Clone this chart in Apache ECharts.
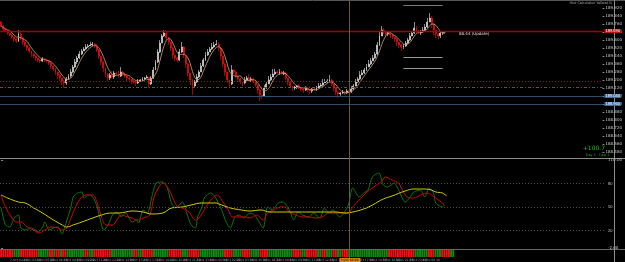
<!DOCTYPE html>
<html><head><meta charset="utf-8">
<script src="https://cdn.jsdelivr.net/npm/echarts@6/dist/echarts.min.js"></script>
<style>html,body{margin:0;padding:0;background:#000;overflow:hidden}#c{width:625px;height:262px}</style>
</head><body><div id="c"></div>
<script>
// ---------- data ----------
const firstOpen = 189.78;
const closes = [189.74,189.71,189.69,189.67,189.65,189.63,189.61,189.59,189.66,
189.62,189.58,189.55,189.52,189.49,189.46,189.44,189.42,189.40,
189.39,189.41,189.40,189.39,
189.37,189.34,189.31,189.28,189.25,189.22,189.19,189.17,
189.21,189.24,189.28,189.33,189.38,189.42,189.46,189.49,189.51,189.53,189.54,189.55,189.56,189.54,
189.50,189.44,189.38,189.32,189.26,189.22,
189.25,189.23,189.27,189.26,189.24,189.28,189.26,
189.24,189.22,189.21,189.19,189.18,189.17,
189.19,189.20,189.21,189.22,189.23,
189.16,
189.22,189.30,189.38,189.48,189.57,189.64,189.67,
189.62,189.58,189.52,189.45,189.42,189.40,
189.48,189.53,
189.45,189.36,189.27,189.20,189.14,
189.18,189.23,189.28,189.34,189.40,189.45,
189.48,189.51,189.53,189.55,189.56,
189.52,189.44,189.36,189.28,189.20,189.16,
189.30,189.28,
189.24,189.21,189.18,189.17,
189.20,189.22,189.20,189.21,189.19,
189.15,189.10,189.05,189.04,
189.12,189.16,189.20,189.23,189.26,189.28,
189.27,189.28,189.26,189.27,
189.22,189.18,189.14,189.12,189.13,
189.14,189.12,189.11,189.10,189.12,189.10,189.09,189.11,189.10,
189.12,189.14,189.15,189.17,189.18,189.19,189.20,
189.16,189.12,189.08,189.06,189.07,
189.08,189.07,189.09,189.08,
189.11,189.14,189.18,189.21,189.25,189.27,189.30,189.33,189.36,189.39,189.42,189.46,
189.55,189.64,189.70,
189.68,189.66,189.67,189.65,
189.63,189.61,189.58,189.55,189.53,189.54,189.57,
189.60,189.64,189.67,189.72,
189.69,189.67,189.68,189.70,189.73,189.78,189.82,
189.76,189.70,189.66,189.64,189.67,189.68,189.68];
// wick lengths beyond the body, in hundredths
const upperWickPips = [1,1,0,1,0,1,0,1,4, 2,1,1,0,1,0,1,1,0, 1,2,1,1, 0,1,0,1,0,1,0,1,
2,2,3,2,3,2,3,2,2,3,2,3,2,1, 2,1,0,1,0,1, 2,4,2,1,3,5,1, 1,0,1,0,1,0, 2,1,2,1,2, 0,
2,3,2,3,3,2,3, 2,1,0,1,0,1, 3,5, 1,0,1,0,1, 2,3,2,3,2,3, 3,2,4,3,4, 2,1,0,1,0,0, 5,1,
1,0,1,0, 3,2,4,2,1, 1,0,1,0, 3,2,4,3,5,3, 2,3,1,2, 1,0,1,0,1, 1,2,1,0,2,1,0,1,1,
2,3,2,4,3,2,5, 1,0,1,0,1, 2,1,2,1, 3,2,3,2,4,3,2,3,4,3,3,2, 3,4,4, 2,1,2,1,
1,0,1,0,1,2,2, 2,3,2,6, 2,1,2,3,3,4,5, 2,1,0,1,2,1,1];
const lowerWickPips = [1,2,1,2,1,2,3,2,1, 2,3,2,3,2,3,2,3,2, 2,1,2,2, 2,3,2,3,4,3,4,5,
2,1,2,1,1,2,1,1,0,1,1,0,1,2, 2,3,3,4,3,3, 2,1,2,1,2,1,2, 2,3,2,3,2,3, 1,0,1,1,0, 4,
1,1,0,1,1,0,1, 2,3,3,4,3,2, 1,1, 3,4,3,5,9, 2,1,1,0,1,1, 1,0,1,1,0, 3,4,3,4,3,3, 1,2,
2,3,2,3, 1,2,1,2,2, 2,4,6,3, 1,1,0,1,0,1, 1,2,1,1, 2,3,2,3,2, 2,1,2,3,1,2,3,2,1,
1,0,1,1,0,1,1, 2,3,3,4,2, 1,2,1,1, 1,1,0,1,1,0,1,1,0,1,0,1, 1,1,0, 2,3,2,3,
2,3,4,3,4,2,1, 1,1,0,1, 2,1,2,1,1,1,0, 4,5,4,3,2,2,1];
// trend histogram: [direction, number of bars]
const histRuns = [[-1,6],[1,3],[-1,8],[1,5],[-1,2],[1,1],[-1,2],[1,1],[-1,2],[1,8],[-1,2],[1,2],
[-1,8],[1,10],[-1,2],[1,2],[-1,5],[1,7],[-1,6],[1,3],[-1,5],[1,11],[-1,4],[1,4],[-1,4],[1,4],
[-1,4],[1,11],[-1,4],[1,2],[-1,5],[1,2],[-1,2],[1,3],[-1,2],[1,2],[-1,3],[1,18],[-1,12],[1,6],
[-1,3],[1,3],[-1,4],[1,2]];
// oscillator lines: [bar index, value]
const oscFast = [[0,48.9],[2,27.3],[4,24.7],[6,36.2],[8,40],[9,23.5],[11,20.9],[14,23.5],[17,18.4],[19,24.7],
[20,31.1],[22,20.9],[24,23.5],[26,24.7],[28,15.8],[29,23.5],[32,50.2],[33,62.9],[35,68],[37,69.3],[38,61.6],
[40,65.5],[42,62.9],[44,50.2],[46,27.3],[47,20.9],[49,27.3],[51,40],[53,43.8],[55,37.5],[57,42.5],[60,31.1],
[62,33.6],[63,29.8],[65,46.4],[67,42.5],[69,62.9],[71,80.7],[74,82],[76,75.6],[78,55.3],[80,48.9],[83,56.5],
[85,42.5],[87,27.3],[89,23.5],[90,37.5],[92,50.2],[93,61.6],[96,68],[98,62.9],[101,46.4],[103,31.1],[105,23.5],
[107,37.5],[109,40],[111,36.2],[114,42.5],[116,40],[117,36.2],[120,23.5],[122,50.2],[124,46.4],[127,55.3],
[129,56.5],[132,46.4],[134,33.6],[136,43.8],[138,40],[141,37.5],[143,42.5],[146,36.2],[148,48.9],[150,42.5],
[152,46.4],[155,37.5],[157,42.5],[159,52.7],[161,74.4],[164,62.9],[166,68],[168,71.8],[170,88.4],[173,93.5],
[175,78.2],[177,75.6],[180,80.7],[182,71.8],[185,56.5],[187,61.6],[189,69.3],[192,71.8],[194,62.9],[196,74.4],
[198,68],[199,55.3],[202,50.2],[203,52.7]];
const oscSignal = [[0,65.5],[2,50.2],[5,36.2],[7,31.1],[9,31.1],[12,24.7],[15,20.9],[17,17.1],[20,20.9],[23,24.7],
[26,23.5],[28,20.9],[30,23.5],[32,36.2],[35,55.3],[37,62.9],[39,65.5],[42,65.5],[44,55.3],[46,37.5],[48,27.3],
[51,27.3],[53,33.6],[55,40],[58,37.5],[60,36.2],[62,33.6],[65,36.2],[68,40],[70,62.9],[72,74.4],[74,80.7],
[77,71.8],[79,59.1],[81,50.2],[83,48.9],[86,43.8],[89,33.6],[91,37.5],[93,46.4],[96,59.1],[99,65.5],[101,59.1],
[104,46.4],[106,37.5],[109,37.5],[112,37.5],[114,36.2],[117,40],[120,33.6],[122,42.5],[125,46.4],[128,50.2],
[130,50.2],[132,43.8],[135,40],[138,37.5],[141,37.5],[144,36.2],[147,37.5],[150,42.5],[153,42.5],[157,42.5],
[159,42.5],[161,50.2],[164,59.1],[167,68],[170,74.4],[174,82],[176,88.4],[179,84.5],[182,80.7],[183,75.6],
[186,62.9],[189,61.6],[192,65.5],[195,68],[197,65.5],[199,61.6],[202,55.3],[203,52.7]];
const oscSlow = [[0,65.5],[3,61.6],[8,56.5],[11,55.3],[15,48.9],[19,42.5],[24,33.6],[28,27.3],[30,24.7],[33,27.3],
[37,31.1],[42,36.2],[46,40],[50,42.5],[54,42.5],[57,43.8],[60,45.1],[65,43.8],[69,41.3],[74,42.5],[78,48.9],
[83,50.2],[87,52.7],[92,55.3],[95,55.3],[98,55.3],[101,52.7],[105,48.9],[110,46.4],[114,45.1],[119,46.4],
[123,43.8],[129,43.8],[135,43.8],[141,43.8],[148,43.8],[153,43.8],[158,42.5],[161,43.8],[166,47.6],[170,52.7],
[175,60.4],[179,64.2],[185,70.5],[189,73.1],[194,73.1],[197,71.8],[199,69.3],[202,68],[204,64.2]];
const oscLevels = [80, 50, 20];
const priceLines = {resistance:189.69, dotted:189.19, dashDot:189.13, blueHigh:189.04, blueLow:188.96};
const targetLines = [189.95, 189.43, 189.32];
const targetFrom = 185, targetTo = 203;
const cursorBar = 160;
const totalSlots = 277;
const maPeriod = 5;

// ---------- build ----------
const months = ['Jan','Feb','Mar','Apr','May','Jun','Jul','Aug','Sep','Oct','Nov','Dec'];
const t0 = Date.UTC(2023, 9, 2, 0, 0);
const categories = [];
for (let i = 0; i < totalSlots; i++) {
  const d = new Date(t0 + i * 15 * 60000);
  categories.push(d.getUTCDate() + ' ' + months[d.getUTCMonth()] + ' ' +
    String(d.getUTCHours()).padStart(2,'0') + ':' + String(d.getUTCMinutes()).padStart(2,'0'));
}
const candles = closes.map((c, i) => {
  const o = i === 0 ? firstOpen : closes[i-1];
  const hi = Math.max(o, c) + upperWickPips[i] / 100;
  const lo = Math.min(o, c) - lowerWickPips[i] / 100;
  return [o, c, +lo.toFixed(2), +hi.toFixed(2)];
});
const ma = closes.map((c, i) => {
  const s = closes.slice(Math.max(0, i - maPeriod + 1), i + 1);
  return +(s.reduce((a, b) => a + b, 0) / s.length).toFixed(4);
});
const hist = [];
histRuns.forEach(([dir, n]) => { for (let k = 0; k < n; k++) hist.push({value: 1, itemStyle: {color: dir > 0 ? '#0f8a0f' : '#f01010'}}); });

const lbl = (bg) => ({show: true, position: 'end', distance: 2, fontSize: 4, color: '#fff',
  backgroundColor: bg, padding: [0, 1], formatter: p => p.value.toFixed(3)});

const chart = echarts.init(document.getElementById('c'), null, {renderer: 'canvas'});
chart.setOption({
  backgroundColor: '#000',
  animation: false,
  grid: [
    {left: 0, right: 11, top: 1, height: 151},
    {left: 0, right: 11, top: 160, height: 88},
    {left: 0, right: 11, top: 250, height: 7}
  ],
  xAxis: [
    {type: 'category', gridIndex: 0, data: categories, show: false},
    {type: 'value', gridIndex: 1, min: -0.5, max: totalSlots - 0.5, show: false},
    {type: 'category', gridIndex: 2, data: categories, axisLine: {show: false}, axisTick: {show: false},
     axisLabel: {fontSize: 3, color: '#9a9a9a', margin: 2, fontFamily: 'DejaVu Sans',
       interval: (idx) => idx % 6 === 2 && idx < closes.length}}
  ],
  yAxis: [
    {type: 'value', gridIndex: 0, position: 'right', min: 188.48, max: 189.99, interval: 0.08,
     splitLine: {show: false}, axisLine: {show: false},
     axisTick: {show: true, length: 2, lineStyle: {color: '#888'}},
     axisLabel: {fontSize: 4, color: '#c8c8c8', margin: 3, showMaxLabel: false, fontFamily: 'DejaVu Sans',
       formatter: v => v.toFixed(3)}},
    {type: 'value', gridIndex: 1, position: 'right', min: -2, max: 110, interval: 112,
     splitLine: {show: false}, axisLine: {show: false},
     axisTick: {show: true, length: 2, lineStyle: {color: '#888'}},
     axisLabel: {fontSize: 4, color: '#c8c8c8', margin: 3, fontFamily: 'DejaVu Sans',
       formatter: v => v.toFixed(2)}},
    {type: 'value', gridIndex: 2, min: 0, max: 1, show: false}
  ],
  series: [
    {type: 'candlestick', xAxisIndex: 0, yAxisIndex: 0, data: candles, barWidth: 1.4,
     itemStyle: {color: '#e8e8e8', color0: '#ff0a0a', borderColor: '#e8e8e8', borderColor0: '#ff0a0a', borderWidth: 0.6},
     markLine: {silent: true, symbol: 'none', animation: false,
       data: [
         {yAxis: priceLines.resistance, lineStyle: {color: '#a00000', width: 1.3, type: 'solid', opacity: 1}, label: lbl('#c01010')},
         {yAxis: priceLines.dotted, lineStyle: {color: '#9a1010', width: 1, type: [1, 2]}, label: {show: false}},
         {yAxis: priceLines.dashDot, lineStyle: {color: '#5f5f25', width: 1, type: [3, 2, 1, 2]}, label: {show: false}},
         {yAxis: priceLines.blueHigh, lineStyle: {color: '#2e4b6b', width: 1.2, type: 'solid'}, label: lbl('#3a6ea5')},
         {yAxis: priceLines.blueLow, lineStyle: {color: '#2e4b6b', width: 1.2, type: 'solid'}, label: lbl('#3a6ea5')},
         ...targetLines.map((p, k) => [
           {coord: [targetFrom, p], lineStyle: {color: k === 0 ? '#777' : '#9a9a9a', width: 1, type: 'solid'}, label: {show: false}},
           {coord: [targetTo, p]}
         ])
       ]}},
    {type: 'line', xAxisIndex: 0, yAxisIndex: 0, data: ma, symbol: 'none', smooth: 0.3,
     lineStyle: {color: '#b8956a', width: 0.9}, z: 3},
    {type: 'line', xAxisIndex: 1, yAxisIndex: 1, data: oscFast, symbol: 'none', smooth: 0.25,
     lineStyle: {color: '#0b780b', width: 1},
     markLine: {silent: true, symbol: 'none', animation: false,
       lineStyle: {color: '#4a4a4a', type: [1, 2], width: 1},
       label: {show: true, position: 'end', distance: 3, fontSize: 4, color: '#c8c8c8'},
       data: oscLevels.map(v => ({yAxis: v}))}},
    {type: 'line', xAxisIndex: 1, yAxisIndex: 1, data: oscSignal, symbol: 'none', smooth: 0.35,
     lineStyle: {color: '#d80000', width: 1}},
    {type: 'line', xAxisIndex: 1, yAxisIndex: 1, data: oscSlow, symbol: 'none', smooth: 0.4,
     lineStyle: {color: '#cfcf00', width: 1}},
    {type: 'bar', xAxisIndex: 2, yAxisIndex: 2, data: hist, barCategoryGap: '12%'}
  ]
});

const cx = Math.round(chart.convertToPixel({xAxisIndex: 0}, cursorBar)) + 0.5;
const axisX = 614.5;
chart.setOption({graphic: [
  {type: 'line', shape: {x1: 0, y1: 0.5, x2: 625, y2: 0.5}, style: {stroke: '#555', lineWidth: 1}, silent: true},
  {type: 'line', shape: {x1: 0, y1: 158.5, x2: 625, y2: 158.5}, style: {stroke: '#8c8c8c', lineWidth: 1.2}, silent: true},
  {type: 'line', shape: {x1: 0, y1: 249.5, x2: 625, y2: 249.5}, style: {stroke: '#666', lineWidth: 1}, silent: true},
  {type: 'line', shape: {x1: axisX, y1: 0, x2: axisX, y2: 262}, style: {stroke: '#8c8c8c', lineWidth: 1}, silent: true},
  {type: 'line', shape: {x1: cx, y1: 0, x2: cx, y2: 258}, style: {stroke: '#6b5a3a', lineWidth: 1}, silent: true, z: 50},
  {type: 'rect', shape: {x: cx - 10, y: 258, width: 21, height: 4}, style: {fill: '#d8860a'}, z: 50},
  {type: 'text', x: cx, y: 258.3, style: {text: categories[cursorBar], fontSize: 3, fill: '#000', align: 'center', fontFamily: 'DejaVu Sans'}, z: 51},
  {type: 'text', x: 459, y: 31.5, style: {text: '88.44 (Update)', fontSize: 4, fill: '#e0e0e0', fontFamily: 'DejaVu Sans'}},
  {type: 'text', x: 612, y: 1.5, style: {text: 'Hist Calculator Yellow(3)', fontSize: 3.5, fill: '#a0a0a0', align: 'right', fontFamily: 'DejaVu Sans'}},
  {type: 'text', x: 605, y: 145.5, style: {text: '+100.7', fontSize: 6, fill: '#1fb51f', align: 'right', fontFamily: 'DejaVu Sans'}},
  {type: 'text', x: 610, y: 153, style: {text: 'Day 1   Last 1', fontSize: 3.5, fill: '#1fa01f', align: 'right', fontFamily: 'DejaVu Sans'}}
]});
</script></body></html>
